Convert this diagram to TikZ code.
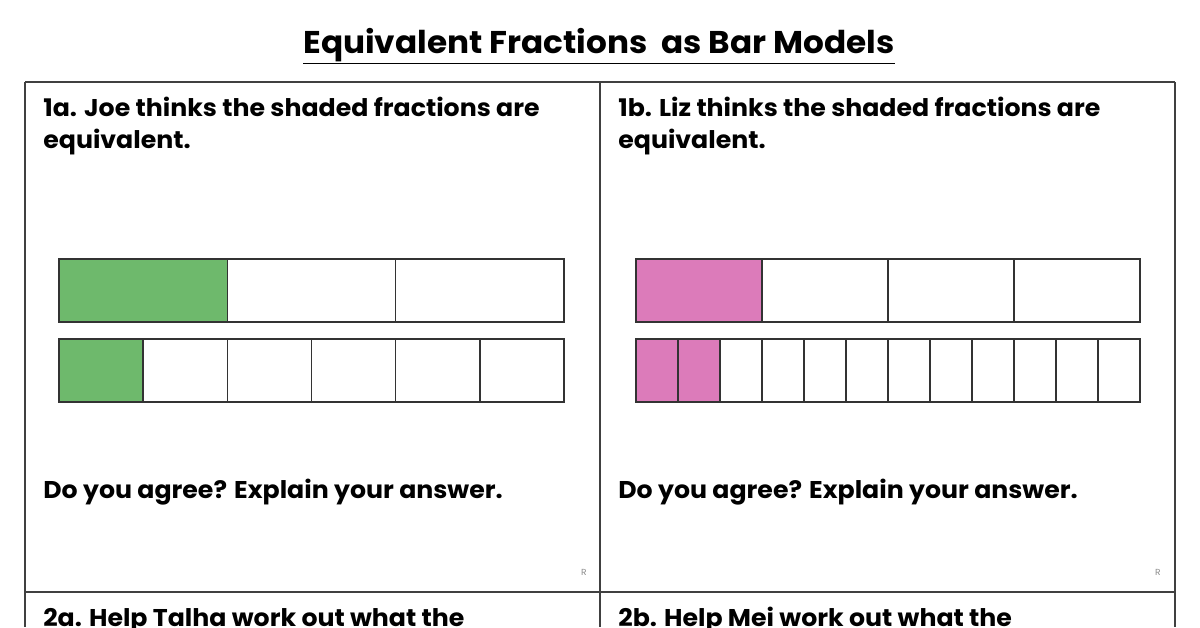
\documentclass[tikz,border=0pt]{standalone}
\usepackage{fontspec}
\setmainfont{Poppins}[FakeStretch=1.04]
\definecolor{shadegreen}{RGB}{110,185,108}
\definecolor{shadepink}{RGB}{220,123,186}
\tikzset{
  frame/.style={draw=black!75, line width=1pt},
  cell/.style={draw=black!80, line width=0.9pt},
  task/.style={anchor=base west, align=left, inner sep=0pt,
    font=\bfseries\fontsize{13.8}{18.1}\selectfont},
  rmark/.style={font=\fontsize{5}{6}\selectfont, text=black!45}
}
\begin{document}
\begin{tikzpicture}[x=0.02cm, y=-0.02cm]
    \useasboundingbox (0,0) rectangle (1200,627);
    % title
    \node[anchor=base, inner sep=0pt, font=\bfseries\fontsize{17.9}{20}\selectfont] (title) at (599,53) {\underline{Equivalent Fractions\ \ as Bar Models}};
    % frame
    \draw[frame, line width=1.3pt] (25,82) -- (1175,82);
    \draw[frame, line width=1.3pt] (25,592) -- (1175,592);
    \draw[frame] (25,82) -- (25,627);
    \draw[frame] (600,82) -- (600,627);
    \draw[frame] (1175,82) -- (1175,627);
    % question texts (base = last line)
    \node[task] (q1a) at (43,148) {1a. Joe thinks the shaded fractions are\\equivalent.};
    \node[task] (q1b) at (618,148) {1b. Liz thinks the shaded fractions are\\equivalent.};
    \node[task] (ask1a) at (43,498) {Do you agree? Explain your answer.};
    \node[task] (ask1b) at (618,498) {Do you agree? Explain your answer.};
    \node[task] (q2a) at (43,626) {2a. Help Talha work out what the};
    \node[task] (q2b) at (618,626) {2b. Help Mei work out what the};
    \node[rmark] (r1) at (584,572) {R};
    \node[rmark] (r2) at (1158,572) {R};
    % bar models 1a
    \fill[shadegreen] (59,259) rectangle (227.3,322);
    \fill[shadegreen] (59,339) rectangle (143.2,402);
    \foreach \i in {0,1,2}
        \draw[cell] ({59+\i*168.3},259) rectangle ({59+(\i+1)*168.3},322);
    \foreach \i in {0,...,5}
        \draw[cell] ({59+\i*84.17},339) rectangle ({59+(\i+1)*84.17},402);
    % bar models 1b
    \fill[shadepink] (636,259) rectangle (762,322);
    \fill[shadepink] (636,339) rectangle (720,402);
    \foreach \i in {0,...,3}
        \draw[cell] ({636+\i*126},259) rectangle ({636+(\i+1)*126},322);
    \foreach \i in {0,...,11}
        \draw[cell] ({636+\i*42},339) rectangle ({636+(\i+1)*42},402);
\end{tikzpicture}
\end{document}
